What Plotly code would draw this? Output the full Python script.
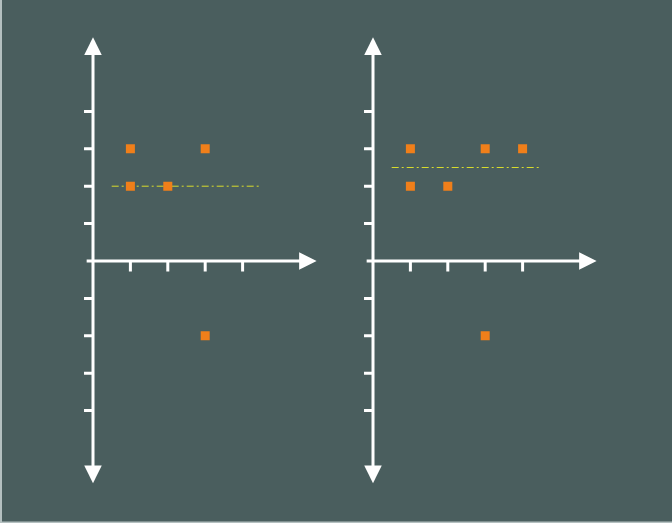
import numpy as np
import plotly.graph_objects as go

# ---- data ----
left_x = [1, 3, 1, 2, 3]
left_y = [3, 3, 2, 2, -2]
right_x = [1, 3, 4, 1, 2, 3]
right_y = [3, 3, 3, 2, 2, -2]
x_ticks = [1, 2, 3, 4]
y_ticks = [-4, -3, -2, -1, 1, 2, 3, 4]
median_span = [0.5, 4.5]

# ---- style ----
BG = "#4a5e5e"
ORANGE = "#f07f1a"
LINE = "#d8dc2c"
WHITE = "#ffffff"
W, H = 672, 523
UNIT = 37.4
XR = [-0.5, 6.2]
YR = [-6.3, 6.3]
ORIGIN_Y = 261
ORIGINS_X = [93, 373]

fig = go.Figure()

def dom_x(ox):
    return [(ox + XR[0] * UNIT) / W, (ox + XR[1] * UNIT) / W]

ydom = [1 - (ORIGIN_Y - YR[0] * UNIT) / H, 1 - (ORIGIN_Y - YR[1] * UNIT) / H]

panels = [(left_x, left_y), (right_x, right_y)]
annotations = []
for i, (xs, ys) in enumerate(panels):
    sx = "" if i == 0 else str(i + 1)
    xa, ya = "x" + sx, "y" + sx
    # tick marks
    tx, ty = [], []
    for t in x_ticks:
        tx += [t, t, None]
        ty += [0, -0.28, None]
    for t in y_ticks:
        tx += [-0.24, 0, None]
        ty += [t, t, None]
    fig.add_trace(go.Scatter(x=tx, y=ty, mode="lines", xaxis=xa, yaxis=ya,
                             line=dict(color=WHITE, width=3), hoverinfo="skip",
                             showlegend=False, cliponaxis=False))
    med = float(np.median(ys))
    fig.add_trace(go.Scatter(x=median_span, y=[med, med], mode="lines",
                             xaxis=xa, yaxis=ya, showlegend=False,
                             line=dict(color=LINE, width=1, dash="7px,3px,2px,3px")))
    fig.add_trace(go.Scatter(x=xs, y=ys, mode="markers", xaxis=xa, yaxis=ya,
                             showlegend=False,
                             marker=dict(symbol="square", size=9, color=ORANGE,
                                         line=dict(width=0))))
    # axis arrows
    annotations.append(dict(x=5.98, y=0, ax=-0.21, ay=0, xref=xa, yref=ya,
                            axref=xa, ayref=ya, showarrow=True, arrowhead=2,
                            arrowsize=1.17, arrowwidth=3, arrowcolor=WHITE,
                            standoff=0, text=""))
    annotations.append(dict(x=0, y=5.98, ax=0, ay=-5.98, xref=xa, yref=ya,
                            axref=xa, ayref=ya, showarrow=True, arrowhead=2,
                            startarrowhead=2, arrowside="end+start",
                            arrowsize=1.17, startarrowsize=1.17, arrowwidth=3,
                            arrowcolor=WHITE, standoff=0, startstandoff=0, text=""))

axis_common = dict(showgrid=False, zeroline=False, showticklabels=False,
                   ticks="", showline=False, fixedrange=True)
layout = dict(width=W, height=H, margin=dict(l=0, r=0, t=0, b=0),
              paper_bgcolor=BG, plot_bgcolor=BG, autosize=False,
              annotations=annotations,
              shapes=[
                  dict(type="rect", xref="paper", yref="paper", x0=0, x1=2 / W,
                       y0=0, y1=1, fillcolor="#b4c0c0", line=dict(width=0)),
                  dict(type="rect", xref="paper", yref="paper", x0=0, x1=1,
                       y0=0, y1=1.5 / H, fillcolor="#b4c0c0", line=dict(width=0)),
              ])
for i, ox in enumerate(ORIGINS_X):
    sx = "" if i == 0 else str(i + 1)
    layout["xaxis" + sx] = dict(domain=dom_x(ox), range=XR, anchor="y" + sx, **axis_common)
    layout["yaxis" + sx] = dict(domain=ydom, range=YR, anchor="x" + sx, **axis_common)
fig.update_layout(**layout)
fig.write_html("out.html", config={"displayModeBar": False},
               post_script="document.body.style.margin='0';document.body.style.overflow='hidden';")
